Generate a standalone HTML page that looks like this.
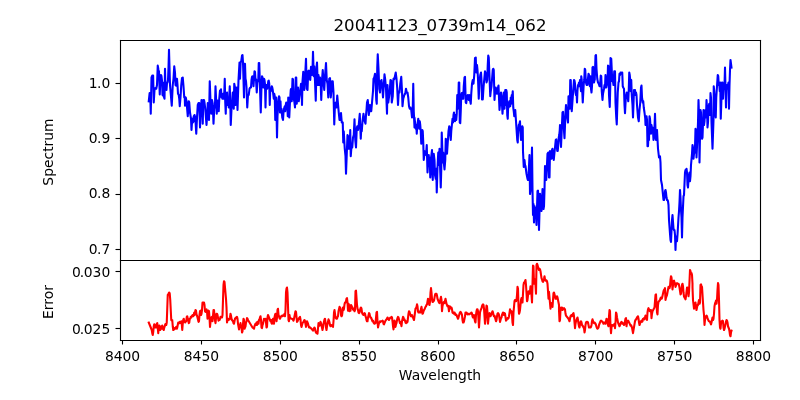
<!DOCTYPE html>
<html><head><meta charset="utf-8"><title>plot</title><style>html,body{margin:0;padding:0;background:#fff;width:800px;height:400px;overflow:hidden}svg{display:block}</style></head><body>
<svg width="800" height="400" viewBox="0 0 576 288" version="1.1">
<defs>
<style type="text/css">*{stroke-linejoin: round; stroke-linecap: butt}</style>
</defs>
<g id="figure_1">
<g id="patch_1">
<path d="M 0 288 
L 576 288 
L 576 0 
L 0 0 
z
" style="fill: #ffffff"/>
</g>
<g id="axes_1">
<g id="patch_2">
<path d="M 86.4 187.2 
L 547.2 187.2 
L 547.2 28.8 
L 86.4 28.8 
z
" style="fill: #ffffff"/>
</g>
<g id="matplotlib.axis_1"/>
<g id="matplotlib.axis_2">
<g id="ytick_1">
<g id="line2d_1">
<g>
<path d="M 86.7600 179.6400 L 83.1600 179.6400" style="stroke: #000000; stroke-width: 0.8"/>
</g>
</g>
<g id="text_1">
<text style="font-size: 10px; font-family: 'DejaVu Sans', 'Liberation Sans', sans-serif; text-anchor: end" x="79.4000" y="182.6700">0<tspan dx="-0.432">.7</tspan></text>
</g>
</g>
<g id="ytick_2">
<g id="line2d_2">
<g>
<path d="M 86.7600 140.0400 L 83.1600 140.0400" style="stroke: #000000; stroke-width: 0.8"/>
</g>
</g>
<g id="text_2">
<text style="font-size: 10px; font-family: 'DejaVu Sans', 'Liberation Sans', sans-serif; text-anchor: end" x="79.4000" y="142.8309">0<tspan dx="-0.432">.8</tspan></text>
</g>
</g>
<g id="ytick_3">
<g id="line2d_3">
<g>
<path d="M 86.7600 99.7200 L 83.1600 99.7200" style="stroke: #000000; stroke-width: 0.8"/>
</g>
</g>
<g id="text_3">
<text style="font-size: 10px; font-family: 'DejaVu Sans', 'Liberation Sans', sans-serif; text-anchor: end" x="79.4000" y="102.9919">0<tspan dx="-0.432">.9</tspan></text>
</g>
</g>
<g id="ytick_4">
<g id="line2d_4">
<g>
<path d="M 86.7600 60.1200 L 83.1600 60.1200" style="stroke: #000000; stroke-width: 0.8"/>
</g>
</g>
<g id="text_4">
<text style="font-size: 10px; font-family: 'DejaVu Sans', 'Liberation Sans', sans-serif; text-anchor: end" x="79.4000" y="63.1529">1<tspan dx="-0.432">.0</tspan></text>
</g>
</g>
<g id="text_5">
<text style="font-size: 10px; font-family: 'DejaVu Sans', 'Liberation Sans', sans-serif; text-anchor: middle" x="38.2403" y="109.4400" transform="rotate(-90 38.2403 109.4400)">Spectrum</text>
</g>
</g>
<g id="line2d_5">
<path d="M 107.1 72.9 
L 107.73 67.05 
L 108.18 67.95 
L 108.54 81.9 
L 109.08 55.8 
L 109.62 54.45 
L 110.25 54.45 
L 110.7 73.8 
L 111.24 64.8 
L 111.78 63.45 
L 112.5 63.9 
L 113.04 61.2 
L 113.58 47.25 
L 114.12 50.4 
L 114.48 51.75 
L 115.02 67.95 
L 115.56 54.45 
L 115.92 54 
L 116.28 54.9 
L 116.64 58.05 
L 117 68.4 
L 117.36 59.4 
L 117.72 69.3 
L 118.08 69.75 
L 118.44 71.1 
L 118.8 49.5 
L 119.16 63.9 
L 119.52 59.85 
L 119.88 64.8 
L 120.24 59.85 
L 120.6 59.4 
L 120.96 57.6 
L 121.32 48.6 
L 121.68 35.82 
L 122.4 61.2 
L 123.66 76.05 
L 124.38 61.2 
L 124.92 56.7 
L 125.46 47.7 
L 126 52.2 
L 126.36 61.2 
L 126.72 61.65 
L 127.08 56.7 
L 127.44 56.7 
L 127.8 61.2 
L 128.16 67.5 
L 128.7 68.4 
L 129.06 71.1 
L 129.42 76.5 
L 129.96 70.2 
L 130.5 61.2 
L 131.04 56.25 
L 131.58 55.8 
L 132.12 62.1 
L 132.66 70.2 
L 133.02 69.75 
L 133.2 76.05 
L 133.74 70.2 
L 134.28 72.9 
L 135.18 83.7 
L 135.9 72.9 
L 136.26 73.8 
L 136.8 81 
L 137.52 85.5 
L 137.88 93.6 
L 138.42 85.5 
L 138.96 88.2 
L 139.5 83.7 
L 140.04 82.8 
L 140.22 87.3 
L 140.58 83.7 
L 141.3 96.3 
L 141.84 84.6 
L 142.38 75.6 
L 142.92 74.25 
L 143.46 74.25 
L 144 91.8 
L 144.54 80.1 
L 145.08 72 
L 145.62 72.45 
L 145.98 89.1 
L 146.34 72 
L 146.88 72 
L 147.24 73.8 
L 147.78 78.3 
L 148.68 90 
L 149.22 81.9 
L 149.58 74.25 
L 149.94 74.7 
L 150.48 86.4 
L 151.02 58.5 
L 151.56 72.9 
L 152.1 81.9 
L 152.64 72 
L 153.18 74.7 
L 153.72 89.1 
L 154.26 78.3 
L 154.8 75.6 
L 155.16 62.1 
L 156.06 81.9 
L 156.6 72.45 
L 156.96 73.8 
L 157.5 80.1 
L 157.86 71.1 
L 158.4 65.25 
L 158.76 66.6 
L 159.12 64.35 
L 159.48 70.2 
L 159.84 69.3 
L 160.2 71.1 
L 160.56 67.5 
L 161.1 71.1 
L 161.46 67.5 
L 161.82 56.7 
L 162.18 73.8 
L 162.54 81.9 
L 162.9 67.5 
L 163.44 66.6 
L 163.8 75.6 
L 164.16 71.1 
L 164.7 77.4 
L 165.42 62.1 
L 165.78 72.9 
L 166.14 90 
L 166.68 78.3 
L 167.22 72.9 
L 167.58 66.6 
L 167.94 67.5 
L 168.3 78.3 
L 168.66 60.3 
L 169.2 63 
L 169.56 75.6 
L 170.1 65.7 
L 170.46 63 
L 171 79.2 
L 171.72 57.6 
L 172.44 45 
L 172.8 56.7 
L 173.25 45 
L 173.7 44.1 
L 174.24 40.05 
L 174.6 39.6 
L 174.96 45 
L 175.68 70.2 
L 176.04 45.9 
L 176.4 45.9 
L 176.76 56.7 
L 177.12 58.5 
L 177.48 63 
L 178.02 77.4 
L 178.56 68.4 
L 179.1 68.4 
L 179.64 63.9 
L 180.18 63 
L 180.72 63 
L 181.08 57.6 
L 181.44 55.35 
L 181.8 54.9 
L 182.16 55.8 
L 182.52 62.1 
L 183.24 51.3 
L 183.6 51.75 
L 183.96 57.6 
L 184.32 57.15 
L 184.86 66.6 
L 185.4 57.6 
L 185.94 58.5 
L 186.3 45.45 
L 186.66 45.45 
L 187.74 81 
L 188.28 62.1 
L 188.64 54.9 
L 189 55.8 
L 189.36 60.3 
L 189.72 63 
L 190.08 56.7 
L 190.44 57.6 
L 190.8 60.75 
L 191.16 77.4 
L 191.52 63 
L 191.88 61.2 
L 192.24 63.9 
L 192.6 63 
L 193.14 58.5 
L 193.5 58.05 
L 193.86 60.3 
L 194.22 75.6 
L 194.58 64.8 
L 194.94 65.7 
L 195.66 62.1 
L 196.02 63 
L 196.38 64.8 
L 197.1 71.1 
L 197.46 67.5 
L 197.82 69.3 
L 198.18 86.4 
L 198.54 80.1 
L 198.9 70.2 
L 199.44 99 
L 199.8 83.7 
L 200.34 73.8 
L 200.88 69.3 
L 201.24 70.2 
L 201.6 81 
L 201.96 72.9 
L 202.32 81 
L 202.68 78.3 
L 203.22 84.6 
L 203.76 86.4 
L 204.12 81 
L 204.48 78.3 
L 205.02 76.5 
L 205.38 80.1 
L 205.74 75.6 
L 206.1 73.8 
L 206.46 76.5 
L 206.82 74.7 
L 207.18 83.7 
L 207.54 70.2 
L 207.9 71.1 
L 208.26 84.6 
L 208.8 72.9 
L 209.34 64.8 
L 209.7 63.9 
L 210.06 72.9 
L 210.6 56.7 
L 210.96 57.15 
L 211.32 70.2 
L 211.86 72.9 
L 212.4 77.4 
L 212.94 55.8 
L 213.3 55.8 
L 213.66 74.7 
L 214.2 65.7 
L 214.56 63 
L 215.1 72.9 
L 216 66.6 
L 216.72 60.3 
L 217.08 60.3 
L 217.44 75.6 
L 217.8 58.5 
L 218.34 51.75 
L 219.06 64.8 
L 219.78 53.1 
L 220.32 42.3 
L 220.86 63.9 
L 221.4 64.8 
L 221.94 51.3 
L 222.3 50.85 
L 222.84 55.8 
L 223.38 57.6 
L 223.92 48.15 
L 224.46 54 
L 225 50.4 
L 225.36 37.35 
L 225.9 54.9 
L 226.26 47.7 
L 226.8 58.5 
L 227.34 72.45 
L 227.88 48.6 
L 228.24 45 
L 228.78 61.2 
L 229.32 54 
L 229.86 61.2 
L 230.4 55.8 
L 230.94 61.2 
L 231.3 72 
L 231.84 57.6 
L 232.38 50.4 
L 232.92 59.4 
L 233.46 64.8 
L 234 54.9 
L 234.72 45.45 
L 235.26 57.6 
L 235.8 60.3 
L 236.34 70.2 
L 237.06 56.7 
L 237.6 56.25 
L 238.14 70.2 
L 238.68 64.8 
L 239.04 58.5 
L 239.58 58.5 
L 240.12 66.6 
L 240.66 89.55 
L 241.2 74.7 
L 241.74 73.8 
L 242.28 77.4 
L 242.82 68.85 
L 243.9 81 
L 244.44 86.4 
L 244.98 86.4 
L 245.52 81.45 
L 246.06 88.2 
L 246.24 87.75 
L 246.78 88.2 
L 247.14 102.6 
L 247.5 94.5 
L 248.22 107.1 
L 248.76 112.5 
L 249.12 125.1 
L 250.2 97.2 
L 250.74 107.1 
L 251.28 98.1 
L 251.82 107.1 
L 252.18 93.6 
L 252.54 112.5 
L 253.08 105.3 
L 253.62 106.2 
L 254.16 99 
L 254.7 97.2 
L 255.24 85.95 
L 255.78 100.8 
L 256.32 106.2 
L 256.86 92.7 
L 257.22 90.9 
L 257.76 93.6 
L 258.12 91.8 
L 259.02 81.9 
L 259.74 99.9 
L 260.1 92.7 
L 260.46 94.5 
L 261 87.3 
L 261.72 81.9 
L 262.26 86.4 
L 263.16 89.1 
L 263.52 82.8 
L 263.88 79.2 
L 264.24 73.8 
L 264.78 72 
L 265.14 75.6 
L 265.5 82.8 
L 266.04 79.2 
L 266.4 75.6 
L 267.3 80.1 
L 268.56 65.7 
L 268.92 56.7 
L 269.46 55.8 
L 270 53.1 
L 270.54 63 
L 270.9 72 
L 271.26 74.7 
L 271.62 48.6 
L 271.98 39.15 
L 272.52 49.5 
L 273.06 63.9 
L 273.6 66.6 
L 274.14 58.5 
L 274.68 57.6 
L 275.22 62.1 
L 275.76 70.2 
L 276.84 53.55 
L 277.38 57.6 
L 277.92 63.9 
L 278.64 81.9 
L 279 61.2 
L 279.54 73.8 
L 280.62 65.7 
L 281.16 57.6 
L 281.7 58.05 
L 282.06 73.8 
L 282.78 69.3 
L 283.32 56.7 
L 283.86 57.15 
L 284.94 52.2 
L 285.48 56.7 
L 286.02 63.9 
L 286.56 75.6 
L 287.1 65.7 
L 287.64 66.6 
L 288.18 60.3 
L 288.9 55.35 
L 289.44 65.7 
L 289.8 76.5 
L 290.34 71.1 
L 291.42 67.5 
L 291.78 67.5 
L 292.32 63.9 
L 292.86 66.6 
L 293.4 66.6 
L 293.94 70.2 
L 294.48 76.5 
L 295.02 78.3 
L 295.56 77.4 
L 296.1 79.2 
L 296.64 84.6 
L 297.18 78.3 
L 297.54 60.3 
L 297.9 80.1 
L 298.44 91.8 
L 298.44 84.6 
L 299.34 92.7 
L 299.7 90 
L 300.06 96.3 
L 300.42 90.9 
L 301.14 85.5 
L 301.5 88.2 
L 301.86 92.7 
L 302.22 87.3 
L 302.58 90 
L 302.94 94.5 
L 303.3 103.5 
L 303.66 97.2 
L 304.02 93.6 
L 304.38 94.5 
L 304.74 102.6 
L 305.1 115.2 
L 305.82 108.9 
L 306.18 109.8 
L 306.72 111.6 
L 307.26 104.4 
L 307.8 124.2 
L 308.34 115.2 
L 308.7 111.6 
L 309.06 118.8 
L 309.42 113.4 
L 309.78 127.8 
L 310.5 112.5 
L 311.04 108 
L 311.22 122.4 
L 311.58 129.6 
L 311.94 117 
L 312.3 110.7 
L 312.84 115.2 
L 313.2 126 
L 313.74 128.7 
L 314.1 121.5 
L 314.46 138.6 
L 315 120.6 
L 315.54 109.8 
L 316.08 118.8 
L 316.44 107.1 
L 317.34 135 
L 317.7 122.4 
L 318.06 95.4 
L 318.78 117 
L 319.14 109.8 
L 319.5 117 
L 320.04 121.95 
L 320.58 115.2 
L 320.94 99.9 
L 321.48 100.8 
L 321.84 110.7 
L 322.92 94.5 
L 323.46 90.9 
L 323.82 91.8 
L 324.18 97.2 
L 324.54 100.8 
L 324.9 94.5 
L 325.8 85.5 
L 326.16 88.2 
L 326.52 82.8 
L 326.88 81 
L 327.6 87.3 
L 327.96 82.8 
L 328.5 86.4 
L 328.86 81.9 
L 329.22 68.4 
L 329.58 78.3 
L 329.94 73.8 
L 330.3 59.4 
L 330.66 59.4 
L 331.02 88.2 
L 331.38 88.65 
L 331.74 80.1 
L 332.1 68.4 
L 332.46 67.05 
L 332.82 71.1 
L 333.18 66.6 
L 333.54 71.1 
L 333.9 62.1 
L 334.44 55.8 
L 334.8 55.35 
L 335.34 73.8 
L 335.7 74.25 
L 336.06 71.1 
L 336.42 69.3 
L 336.78 68.4 
L 337.14 68.85 
L 337.5 72 
L 337.86 68.4 
L 338.22 71.1 
L 338.94 74.7 
L 339.3 67.5 
L 339.84 60.3 
L 340.38 57.6 
L 340.92 60.3 
L 341.46 54 
L 342 41.85 
L 342.54 41.4 
L 342.9 52.2 
L 343.44 46.8 
L 343.8 50.4 
L 344.16 56.7 
L 344.7 71.1 
L 345.24 58.5 
L 345.78 54 
L 346.32 52.2 
L 346.68 57.6 
L 347.04 71.55 
L 347.58 71.55 
L 348.12 63 
L 349.2 51.3 
L 349.74 53.1 
L 350.28 59.4 
L 350.82 57.6 
L 351.18 46.8 
L 351.54 40.05 
L 351.9 41.4 
L 352.98 69.3 
L 353.34 65.7 
L 353.88 62.1 
L 354.78 50.4 
L 355.14 49.5 
L 355.5 50.4 
L 356.04 72 
L 356.4 66.6 
L 356.94 63 
L 357.48 66.6 
L 357.84 67.5 
L 358.2 66.6 
L 358.56 63 
L 358.92 61.65 
L 359.64 79.2 
L 360 75.6 
L 360.36 70.2 
L 360.72 66.6 
L 361.08 69.3 
L 361.8 81.9 
L 362.7 66.6 
L 363.24 78.3 
L 363.78 64.8 
L 364.14 75.6 
L 364.5 64.8 
L 364.86 66.6 
L 365.22 82.8 
L 365.58 85.5 
L 365.94 73.8 
L 366.3 77.4 
L 366.66 72.9 
L 367.02 75.6 
L 367.38 76.5 
L 367.74 70.2 
L 368.1 74.7 
L 368.46 68.4 
L 368.82 70.2 
L 369.18 65.7 
L 369.54 77.4 
L 369.9 80.1 
L 370.26 83.7 
L 370.62 81 
L 370.98 79.2 
L 372.42 100.8 
L 372.78 102.6 
L 372.96 96.3 
L 373.5 90 
L 374.04 89.1 
L 374.4 87.3 
L 374.76 96.3 
L 375.12 100.8 
L 375.66 91.8 
L 376.02 90.9 
L 376.38 91.8 
L 376.56 108.9 
L 377.1 120.15 
L 377.64 115.2 
L 378 118.8 
L 378.36 119.7 
L 379.08 125.1 
L 379.8 128.7 
L 380.16 129.6 
L 380.52 127.8 
L 381.24 111.6 
L 381.6 139.68 
L 382.32 134.64 
L 383.04 106.2 
L 383.4 136.8 
L 383.76 154.8 
L 384.12 146.88 
L 384.48 160.2 
L 384.84 148.32 
L 385.2 155.52 
L 385.56 149.4 
L 385.92 154.08 
L 386.28 162 
L 387 137.52 
L 387.36 137.232 
L 388.08 165.6 
L 388.8 139.5 
L 389.16 142.2 
L 389.52 151.2 
L 389.88 151.92 
L 390.24 146.88 
L 390.6 136.08 
L 390.96 139.68 
L 391.32 150.48 
L 391.68 148.32 
L 392.04 136.8 
L 392.4 119.52 
L 392.76 127.8 
L 393.3 129.6 
L 394.2 110.7 
L 394.74 109.8 
L 395.28 127.8 
L 395.64 127.8 
L 396 108.72 
L 396.36 109.44 
L 396.72 113.4 
L 397.08 114.3 
L 397.44 108 
L 397.8 107.1 
L 398.7 115.2 
L 400.14 100.8 
L 400.5 100.368 
L 401.22 108.72 
L 401.58 108.72 
L 402.3 99 
L 402.66 97.2 
L 403.02 93.6 
L 403.2 90 
L 403.56 100.8 
L 403.92 105.75 
L 405 81 
L 405.36 80.55 
L 405.72 86.4 
L 406.08 94.5 
L 406.44 99.45 
L 407.16 81 
L 407.52 75.6 
L 408.06 81.9 
L 408.96 88.2 
L 409.32 69.3 
L 409.68 69.3 
L 410.04 72 
L 410.22 78.3 
L 410.58 57.6 
L 410.94 57.6 
L 411.66 80.1 
L 412.74 64.8 
L 413.28 57.6 
L 413.64 58.05 
L 414 60.3 
L 414.36 66.6 
L 414.72 68.4 
L 415.08 65.7 
L 415.44 73.8 
L 415.8 64.8 
L 416.16 61.2 
L 416.52 61.2 
L 416.88 59.4 
L 417.24 62.1 
L 417.6 57.6 
L 418.32 65.7 
L 418.5 54.9 
L 418.86 57.6 
L 419.58 73.8 
L 420.3 60.3 
L 420.66 57.6 
L 421.02 49.5 
L 421.38 50.4 
L 421.74 57.6 
L 422.1 60.3 
L 422.46 61.2 
L 422.82 61.2 
L 423.72 53.1 
L 424.08 54 
L 424.44 61.2 
L 424.8 62.1 
L 425.16 54.9 
L 425.52 63.9 
L 425.88 66.6 
L 426.24 62.1 
L 426.6 48.6 
L 426.96 48.15 
L 427.32 57.6 
L 427.68 59.4 
L 428.04 57.6 
L 428.22 57.6 
L 428.76 40.05 
L 429.12 39.6 
L 429.48 49.5 
L 430.02 56.7 
L 430.56 59.4 
L 431.1 60.3 
L 431.64 62.1 
L 432 62.1 
L 432.54 54.45 
L 432.9 54.9 
L 433.26 65.7 
L 433.8 72 
L 434.16 67.5 
L 434.88 63.9 
L 435.24 61.2 
L 435.6 63 
L 435.96 54 
L 436.5 63 
L 437.04 60.3 
L 437.4 59.4 
L 437.76 47.25 
L 438.12 47.7 
L 438.48 68.4 
L 439.02 76.95 
L 439.38 63 
L 439.56 41.85 
L 440.1 42.3 
L 440.82 58.5 
L 441.18 57.6 
L 441.72 61.2 
L 442.26 51.3 
L 442.8 51.3 
L 443.16 73.8 
L 443.7 84.6 
L 444.06 89.55 
L 444.78 66.6 
L 445.32 59.4 
L 445.68 58.5 
L 446.04 53.1 
L 446.4 54 
L 446.76 52.2 
L 447.3 53.1 
L 447.66 52.2 
L 448.02 52.2 
L 448.38 62.1 
L 448.74 63 
L 449.28 63.9 
L 449.64 75.6 
L 450 81.45 
L 450.54 71.1 
L 450.9 68.4 
L 451.26 66.6 
L 451.98 70.2 
L 452.34 72.9 
L 452.7 64.8 
L 453.06 52.2 
L 453.42 54 
L 453.78 57.6 
L 454.14 65.7 
L 454.5 57.6 
L 454.86 68.4 
L 455.4 75.6 
L 455.76 84.6 
L 456.48 64.8 
L 456.84 66.6 
L 457.2 64.8 
L 457.56 68.4 
L 457.92 66.6 
L 458.28 68.4 
L 458.64 75.6 
L 459.36 84.6 
L 459.9 87.3 
L 460.44 79.2 
L 460.98 73.8 
L 461.52 63 
L 461.88 61.65 
L 462.24 70.2 
L 462.78 73.8 
L 463.14 72.9 
L 463.5 77.4 
L 464.04 81 
L 464.58 85.5 
L 464.76 90 
L 465.12 84.6 
L 465.48 83.7 
L 465.84 86.4 
L 466.2 105.3 
L 466.56 105.3 
L 466.92 97.2 
L 467.28 100.8 
L 467.64 83.7 
L 468 85.5 
L 468.72 96.3 
L 469.08 90 
L 469.44 93.6 
L 469.8 91.8 
L 470.16 94.5 
L 470.52 100.8 
L 470.88 99 
L 471.24 91.8 
L 471.6 81.9 
L 471.96 93.6 
L 472.32 100.8 
L 472.68 94.5 
L 473.04 93.6 
L 473.76 107.1 
L 474.48 113.4 
L 474.84 112.5 
L 475.2 112.5 
L 475.56 117 
L 475.92 129.6 
L 476.64 133.2 
L 477.72 144 
L 478.08 144 
L 478.44 142.2 
L 478.8 137.7 
L 479.16 136.8 
L 479.52 138.6 
L 479.88 142.2 
L 480.24 144 
L 480.6 144 
L 480.96 144.9 
L 481.32 147.6 
L 481.68 158.4 
L 482.4 168.3 
L 482.76 172.8 
L 483.12 174.15 
L 483.84 158.4 
L 484.2 154.8 
L 484.92 164.7 
L 485.28 165.6 
L 485.64 165.6 
L 486 169.2 
L 486.36 180 
L 486.72 170.1 
L 487.08 171 
L 487.44 173.7 
L 487.8 169.2 
L 488.52 156.6 
L 488.88 152.1 
L 489.24 145.8 
L 489.6 136.8 
L 489.96 142.2 
L 490.32 151.2 
L 490.68 156.6 
L 491.04 171 
L 491.4 156.6 
L 492.12 141.3 
L 492.48 140.4 
L 493.2 124.2 
L 493.56 122.4 
L 493.92 124.2 
L 494.28 121.5 
L 494.64 124.2 
L 495 133.2 
L 495.36 135 
L 495.72 129.6 
L 496.08 126 
L 496.44 124.2 
L 496.8 130.5 
L 497.16 126.9 
L 497.52 118.8 
L 498.24 110.7 
L 498.6 104.4 
L 498.96 106.2 
L 499.32 114.3 
L 499.68 110.7 
L 500.04 109.8 
L 500.4 106.2 
L 500.76 92.7 
L 501.12 94.5 
L 501.48 113.4 
L 502.2 97.2 
L 502.56 88.2 
L 502.92 72 
L 503.28 82.8 
L 503.64 117 
L 504.36 79.2 
L 504.72 81 
L 505.08 95.4 
L 505.44 99.9 
L 505.8 99 
L 506.52 79.2 
L 506.88 90 
L 507.24 87.3 
L 507.6 81 
L 507.96 79.2 
L 508.32 84.6 
L 508.68 72 
L 509.04 77.4 
L 509.4 91.8 
L 509.76 88.2 
L 510.12 77.4 
L 510.66 74.7 
L 511.2 82.8 
L 511.56 67.05 
L 511.92 70.2 
L 512.28 88.2 
L 513 107.1 
L 513.72 86.4 
L 513.9 62.1 
L 514.26 65.7 
L 514.98 81 
L 515.34 84.6 
L 515.7 70.2 
L 516.78 54 
L 517.14 54.9 
L 517.5 61.2 
L 517.86 60.3 
L 518.22 65.7 
L 518.58 59.4 
L 518.94 85.5 
L 519.84 59.4 
L 520.2 59.4 
L 520.56 71.1 
L 520.92 63 
L 521.28 63.9 
L 521.64 61.2 
L 522 48.6 
L 522.72 77.4 
L 523.08 63 
L 523.44 61.2 
L 523.8 63.9 
L 524.16 61.2 
L 524.52 59.4 
L 524.88 78.3 
L 525.24 61.2 
L 525.6 50.4 
L 525.96 43.2 
L 526.68 48.6 
L 526.68 48.6 
" clip-path="url(#p2a2abd546a)" style="fill: none; stroke: #0000ff; stroke-width: 1.5; stroke-linecap: square"/>
</g>
<g id="patch_3">
<path d="M 86.7600 187.5600 L 86.7600 29.1600" style="fill: none; stroke: #000000; stroke-width: 0.8; stroke-linejoin: miter; stroke-linecap: square"/>
</g>
<g id="patch_4">
<path d="M 547.5600 187.5600 L 547.5600 29.1600" style="fill: none; stroke: #000000; stroke-width: 0.8; stroke-linejoin: miter; stroke-linecap: square"/>
</g>
<g id="patch_5">
<path d="M 86.7600 187.5600 L 547.5600 187.5600" style="fill: none; stroke: #000000; stroke-width: 0.8; stroke-linejoin: miter; stroke-linecap: square"/>
</g>
<g id="patch_6">
<path d="M 86.7600 29.1600 L 547.5600 29.1600" style="fill: none; stroke: #000000; stroke-width: 0.8; stroke-linejoin: miter; stroke-linecap: square"/>
</g>
<g id="text_6">
<text style="font-size: 12px; font-family: 'DejaVu Sans', 'Liberation Sans', sans-serif; text-anchor: middle" x="316.8000" y="22.0800">20041123_0739m14_062</text>
</g>
</g>
<g id="axes_2">
<g id="patch_7">
<path d="M 86.4 244.8 
L 547.2 244.8 
L 547.2 187.2 
L 86.4 187.2 
z
" style="fill: #ffffff"/>
</g>
<g id="matplotlib.axis_3">
<g id="xtick_1">
<g id="line2d_6">
<g>
<path d="M 88.2000 245.1600 L 88.2000 248.0400" style="stroke: #000000; stroke-width: 0.8"/>
</g>
</g>
<g id="text_7">
<text style="font-size: 10px; font-family: 'DejaVu Sans', 'Liberation Sans', sans-serif; text-anchor: middle" x="88.2398" y="260.1184">8400</text>
</g>
</g>
<g id="xtick_2">
<g id="line2d_7">
<g>
<path d="M 145.0800 245.1600 L 145.0800 248.0400" style="stroke: #000000; stroke-width: 0.8"/>
</g>
</g>
<g id="text_8">
<text style="font-size: 10px; font-family: 'DejaVu Sans', 'Liberation Sans', sans-serif; text-anchor: middle" x="145.0250" y="260.1184">8450</text>
</g>
</g>
<g id="xtick_3">
<g id="line2d_8">
<g>
<path d="M 201.9600 245.1600 L 201.9600 248.0400" style="stroke: #000000; stroke-width: 0.8"/>
</g>
</g>
<g id="text_9">
<text style="font-size: 10px; font-family: 'DejaVu Sans', 'Liberation Sans', sans-serif; text-anchor: middle" x="201.8101" y="260.1184">8500</text>
</g>
</g>
<g id="xtick_4">
<g id="line2d_9">
<g>
<path d="M 258.8400 245.1600 L 258.8400 248.0400" style="stroke: #000000; stroke-width: 0.8"/>
</g>
</g>
<g id="text_10">
<text style="font-size: 10px; font-family: 'DejaVu Sans', 'Liberation Sans', sans-serif; text-anchor: middle" x="258.5952" y="260.1184">8550</text>
</g>
</g>
<g id="xtick_5">
<g id="line2d_10">
<g>
<path d="M 315.7200 245.1600 L 315.7200 248.0400" style="stroke: #000000; stroke-width: 0.8"/>
</g>
</g>
<g id="text_11">
<text style="font-size: 10px; font-family: 'DejaVu Sans', 'Liberation Sans', sans-serif; text-anchor: middle" x="315.3804" y="260.1184">8600</text>
</g>
</g>
<g id="xtick_6">
<g id="line2d_11">
<g>
<path d="M 371.8800 245.1600 L 371.8800 248.0400" style="stroke: #000000; stroke-width: 0.8"/>
</g>
</g>
<g id="text_12">
<text style="font-size: 10px; font-family: 'DejaVu Sans', 'Liberation Sans', sans-serif; text-anchor: middle" x="372.1655" y="260.1184">8650</text>
</g>
</g>
<g id="xtick_7">
<g id="line2d_12">
<g>
<path d="M 428.7600 245.1600 L 428.7600 248.0400" style="stroke: #000000; stroke-width: 0.8"/>
</g>
</g>
<g id="text_13">
<text style="font-size: 10px; font-family: 'DejaVu Sans', 'Liberation Sans', sans-serif; text-anchor: middle" x="428.9506" y="260.1184">8700</text>
</g>
</g>
<g id="xtick_8">
<g id="line2d_13">
<g>
<path d="M 485.6400 245.1600 L 485.6400 248.0400" style="stroke: #000000; stroke-width: 0.8"/>
</g>
</g>
<g id="text_14">
<text style="font-size: 10px; font-family: 'DejaVu Sans', 'Liberation Sans', sans-serif; text-anchor: middle" x="485.7358" y="260.1184">8750</text>
</g>
</g>
<g id="xtick_9">
<g id="line2d_14">
<g>
<path d="M 542.5200 245.1600 L 542.5200 248.0400" style="stroke: #000000; stroke-width: 0.8"/>
</g>
</g>
<g id="text_15">
<text style="font-size: 10px; font-family: 'DejaVu Sans', 'Liberation Sans', sans-serif; text-anchor: middle" x="542.5209" y="260.1184">8800</text>
</g>
</g>
<g id="text_16">
<text style="font-size: 10px; font-family: 'DejaVu Sans', 'Liberation Sans', sans-serif; text-anchor: middle" x="316.8000" y="273.7966">Wavelength</text>
</g>
</g>
<g id="matplotlib.axis_4">
<g id="ytick_5">
<g id="line2d_15">
<g>
<path d="M 86.7600 236.5200 L 83.1600 236.5200" style="stroke: #000000; stroke-width: 0.8"/>
</g>
</g>
<g id="text_17">
<text style="font-size: 10px; font-family: 'DejaVu Sans', 'Liberation Sans', sans-serif; text-anchor: end" x="79.4000" y="240.2768">0<tspan dx="-0.720">.</tspan><tspan dx="-0.288">025</tspan></text>
</g>
</g>
<g id="ytick_6">
<g id="line2d_16">
<g>
<path d="M 86.7600 195.4800 L 83.1600 195.4800" style="stroke: #000000; stroke-width: 0.8"/>
</g>
</g>
<g id="text_18">
<text style="font-size: 10px; font-family: 'DejaVu Sans', 'Liberation Sans', sans-serif; text-anchor: end" x="79.4000" y="199.2395">0<tspan dx="-0.720">.</tspan><tspan dx="-0.288">030</tspan></text>
</g>
</g>
<g id="text_19">
<text style="font-size: 10px; font-family: 'DejaVu Sans', 'Liberation Sans', sans-serif; text-anchor: middle" x="38.2403" y="217.4400" transform="rotate(-90 38.2403 217.4400)">Error</text>
</g>
</g>
<g id="line2d_17">
<path d="M 107.1 232.2 
L 109.26 237.6 
L 109.62 239.85 
L 109.98 241.2 
L 110.34 238.95 
L 110.7 234.9 
L 111.06 233.55 
L 111.42 235.8 
L 112.14 234 
L 112.5 235.8 
L 112.86 233.1 
L 113.22 232.65 
L 113.94 239.85 
L 114.3 235.8 
L 114.66 234.45 
L 115.02 235.8 
L 115.38 237.6 
L 115.74 235.8 
L 116.1 234.9 
L 116.46 236.7 
L 116.82 234.45 
L 117.18 235.8 
L 117.9 237.6 
L 118.26 235.8 
L 118.62 234.9 
L 118.98 233.55 
L 119.34 233.1 
L 119.7 234 
L 120.06 232.2 
L 120.78 212.4 
L 121.14 211.95 
L 121.5 211.05 
L 121.86 210.6 
L 122.22 211.5 
L 122.58 216 
L 123.3 230.4 
L 123.66 230.85 
L 124.02 230.4 
L 124.38 234.9 
L 124.74 237.6 
L 125.1 237.15 
L 125.46 237.15 
L 125.82 236.25 
L 126.18 236.7 
L 126.54 235.8 
L 126.9 235.35 
L 127.26 236.7 
L 127.62 235.8 
L 128.34 232.2 
L 128.7 232.65 
L 129.06 232.65 
L 129.42 231.75 
L 129.78 232.65 
L 130.14 232.2 
L 130.5 231.3 
L 130.86 233.1 
L 131.22 237.6 
L 131.58 233.1 
L 131.94 230.4 
L 132.3 229.5 
L 132.66 231.3 
L 133.38 232.2 
L 133.74 231.3 
L 134.1 231.3 
L 134.46 228.15 
L 134.82 227.7 
L 135.9 232.65 
L 136.26 232.2 
L 136.62 229.5 
L 136.98 229.5 
L 137.34 228.15 
L 137.7 228.6 
L 138.06 227.7 
L 138.78 226.8 
L 139.14 227.7 
L 139.5 226.8 
L 139.86 225 
L 140.22 226.8 
L 140.4 225 
L 140.76 223.2 
L 141.12 223.65 
L 141.48 226.35 
L 141.84 227.25 
L 142.2 228.6 
L 142.92 231.75 
L 143.28 231.3 
L 143.64 226.8 
L 144 224.1 
L 144.36 223.65 
L 144.72 226.8 
L 145.08 225.9 
L 145.44 223.2 
L 145.8 217.8 
L 146.88 217.8 
L 147.24 219.6 
L 147.6 224.1 
L 147.96 224.55 
L 148.32 223.2 
L 148.68 222.75 
L 149.04 223.65 
L 149.4 229.5 
L 149.76 227.7 
L 150.12 223.65 
L 150.48 224.1 
L 150.84 228.6 
L 151.2 235.35 
L 151.92 228.6 
L 152.28 229.5 
L 152.64 228.15 
L 153 231.3 
L 153.72 223.2 
L 154.08 223.2 
L 154.8 230.85 
L 155.16 232.65 
L 155.88 225.9 
L 156.24 225.9 
L 156.6 226.8 
L 157.32 230.85 
L 157.68 230.4 
L 158.04 230.4 
L 158.4 229.5 
L 158.76 228.15 
L 159.12 228.6 
L 159.48 228.15 
L 159.84 228.6 
L 160.2 226.8 
L 160.92 205.2 
L 161.28 202.5 
L 161.64 202.95 
L 162.72 215.1 
L 163.08 221.4 
L 163.44 232.2 
L 163.8 230.4 
L 164.16 229.5 
L 164.52 230.4 
L 164.88 229.5 
L 165.24 229.95 
L 165.6 228.6 
L 165.96 225.9 
L 166.32 227.25 
L 166.68 229.5 
L 167.04 230.4 
L 167.76 231.3 
L 168.12 232.65 
L 168.48 233.1 
L 169.2 229.5 
L 169.92 228.6 
L 170.28 229.05 
L 170.64 228.15 
L 171 229.5 
L 171.36 233.1 
L 172.08 237.15 
L 172.44 235.8 
L 173.16 232.65 
L 173.52 234.9 
L 173.88 235.8 
L 174.24 239.4 
L 174.6 238.5 
L 174.96 233.1 
L 175.32 229.5 
L 175.68 230.4 
L 176.04 236.7 
L 176.76 234.9 
L 177.12 232.2 
L 177.48 231.3 
L 177.84 229.05 
L 178.2 229.5 
L 178.56 230.4 
L 181.8 235.8 
L 182.88 236.7 
L 183.24 234.9 
L 183.96 233.1 
L 184.32 234 
L 184.68 232.2 
L 185.04 234 
L 185.4 231.75 
L 185.76 232.2 
L 186.12 233.1 
L 186.48 230.4 
L 186.84 229.95 
L 187.2 228.6 
L 187.56 227.7 
L 187.92 230.4 
L 188.28 235.8 
L 188.64 236.25 
L 189 234 
L 189.36 233.1 
L 190.08 229.5 
L 190.44 230.4 
L 191.16 229.5 
L 191.52 232.2 
L 191.88 235.8 
L 192.24 235.35 
L 192.6 228.6 
L 192.96 226.8 
L 194.76 231.3 
L 195.12 230.4 
L 195.48 232.65 
L 195.84 233.1 
L 196.56 229.5 
L 196.92 232.2 
L 197.28 233.1 
L 197.64 228.6 
L 198 226.8 
L 198.36 225.9 
L 199.08 231.3 
L 199.44 228.6 
L 199.8 223.2 
L 200.16 222.3 
L 200.52 226.8 
L 200.88 227.7 
L 201.24 229.05 
L 201.6 229.5 
L 202.32 227.7 
L 202.68 227.7 
L 203.04 227.25 
L 203.4 227.7 
L 204.12 226.8 
L 204.48 227.25 
L 204.84 225.9 
L 205.2 227.7 
L 205.56 223.2 
L 205.92 210.6 
L 206.28 207.9 
L 206.64 207 
L 207 210.6 
L 207.72 230.4 
L 208.08 231.3 
L 208.44 226.8 
L 208.8 229.05 
L 209.16 229.05 
L 209.7 229.5 
L 210.24 229.5 
L 210.78 229.95 
L 211.32 230.85 
L 211.68 229.5 
L 212.76 224.1 
L 213.12 224.55 
L 213.84 231.75 
L 214.2 231.3 
L 214.56 230.4 
L 214.92 229.95 
L 215.28 229.05 
L 216 228.15 
L 216.36 229.95 
L 216.72 234 
L 217.08 235.35 
L 217.8 232.65 
L 218.52 231.75 
L 218.88 230.85 
L 219.24 230.4 
L 219.6 231.3 
L 220.32 235.35 
L 221.04 231.3 
L 221.76 233.1 
L 222.48 235.8 
L 222.84 235.35 
L 223.56 236.25 
L 223.92 236.25 
L 225.36 238.05 
L 226.08 236.25 
L 226.44 235.8 
L 226.8 236.7 
L 227.16 238.5 
L 227.52 239.4 
L 227.88 239.85 
L 228.24 239.85 
L 228.6 240.3 
L 229.32 232.65 
L 229.68 233.1 
L 230.04 234.45 
L 230.76 231.75 
L 231.12 232.65 
L 232.2 237.6 
L 232.56 235.8 
L 232.92 233.1 
L 233.64 229.95 
L 234 229.5 
L 234.36 232.2 
L 234.72 235.8 
L 235.08 237.6 
L 235.44 234.9 
L 236.52 229.95 
L 236.88 230.85 
L 237.24 232.2 
L 237.6 234 
L 237.96 234.9 
L 238.68 234 
L 239.76 235.35 
L 240.12 231.3 
L 240.48 225 
L 240.84 223.2 
L 241.56 228.6 
L 242.28 229.5 
L 242.64 229.5 
L 243 228.15 
L 243.36 227.7 
L 243.72 224.1 
L 244.44 220.95 
L 244.8 221.4 
L 245.16 222.3 
L 245.52 226.8 
L 245.88 227.7 
L 246.24 227.25 
L 246.96 221.4 
L 247.32 223.2 
L 247.68 222.3 
L 248.04 219.15 
L 248.4 217.8 
L 248.76 217.8 
L 249.12 216.9 
L 249.48 215.1 
L 249.84 214.65 
L 250.2 217.8 
L 250.56 223.65 
L 250.92 218.7 
L 251.28 219.6 
L 251.64 224.1 
L 252 220.5 
L 252.36 223.65 
L 252.72 219.6 
L 253.08 220.05 
L 253.44 220.95 
L 253.8 221.4 
L 254.16 222.75 
L 254.52 223.2 
L 254.88 222.3 
L 255.24 224.1 
L 255.6 223.2 
L 255.96 209.7 
L 256.32 209.25 
L 257.04 219.6 
L 257.4 222.3 
L 257.76 223.2 
L 258.12 225 
L 258.48 225.45 
L 258.84 225 
L 259.56 221.85 
L 259.92 221.4 
L 260.28 222.3 
L 260.64 225 
L 261 225.9 
L 261.72 226.8 
L 262.08 225.9 
L 262.44 225.45 
L 262.8 225.9 
L 263.16 227.7 
L 263.52 228.6 
L 263.88 230.4 
L 264.24 231.3 
L 264.6 231.3 
L 264.96 228.6 
L 265.68 225.45 
L 266.04 225.9 
L 266.4 227.7 
L 266.76 228.6 
L 267.12 228.6 
L 268.2 231.3 
L 268.56 230.85 
L 268.92 232.2 
L 269.64 233.1 
L 270 232.2 
L 270.36 232.65 
L 271.08 225 
L 271.44 224.55 
L 271.8 231.3 
L 272.16 235.8 
L 272.88 232.65 
L 273.24 232.2 
L 273.6 231.3 
L 273.96 231.75 
L 274.32 231.3 
L 275.04 231.3 
L 275.4 230.85 
L 275.76 231.3 
L 276.12 233.1 
L 276.48 233.55 
L 277.56 230.85 
L 278.64 229.5 
L 279 228.6 
L 279.36 229.05 
L 279.72 229.95 
L 280.08 230.4 
L 280.44 229.5 
L 281.16 228.6 
L 281.52 228.6 
L 281.88 228.15 
L 282.24 228.6 
L 282.6 231.3 
L 282.96 234.9 
L 283.32 237.15 
L 284.04 230.85 
L 284.4 232.2 
L 284.76 235.35 
L 285.12 233.55 
L 285.48 232.65 
L 285.84 230.4 
L 286.2 229.05 
L 286.56 228.15 
L 286.92 228.6 
L 288 232.65 
L 288.36 231.75 
L 289.08 234.9 
L 289.44 231.3 
L 290.16 228.15 
L 290.52 228.6 
L 290.88 230.4 
L 291.24 229.95 
L 291.6 230.85 
L 291.96 232.2 
L 292.32 232.65 
L 292.68 231.3 
L 293.04 232.2 
L 293.4 231.75 
L 294.12 225.9 
L 294.48 224.1 
L 294.84 224.55 
L 295.2 225.9 
L 295.92 227.7 
L 296.64 226.8 
L 297 228.15 
L 297.36 228.6 
L 298.08 230.4 
L 299.16 222.3 
L 299.52 221.85 
L 299.88 220.95 
L 300.24 219.15 
L 300.6 220.5 
L 300.96 224.1 
L 301.32 225 
L 301.68 225 
L 302.4 224.1 
L 302.76 225 
L 303.12 222.3 
L 303.48 220.95 
L 304.2 225.9 
L 304.56 225.45 
L 304.92 224.1 
L 305.28 223.2 
L 305.64 222.75 
L 306.36 220.95 
L 306.72 220.5 
L 307.08 219.6 
L 307.44 219.15 
L 308.16 215.1 
L 308.52 216 
L 308.88 218.7 
L 309.24 219.6 
L 309.6 217.35 
L 309.96 210.6 
L 310.32 207.45 
L 310.68 210.6 
L 311.04 215.1 
L 311.4 217.35 
L 311.76 217.35 
L 312.48 216.45 
L 313.2 212.4 
L 313.56 211.5 
L 314.28 211.5 
L 314.64 212.85 
L 315 215.1 
L 316.08 217.8 
L 316.44 218.25 
L 316.8 217.35 
L 317.16 215.1 
L 317.52 213.75 
L 317.88 216 
L 318.24 224.1 
L 318.6 220.5 
L 318.96 218.7 
L 319.32 217.8 
L 319.68 217.35 
L 320.04 218.25 
L 320.76 215.1 
L 321.48 218.7 
L 322.2 220.5 
L 322.56 220.05 
L 322.92 221.4 
L 323.28 224.1 
L 323.64 220.5 
L 324 222.3 
L 324.36 220.95 
L 324.72 221.85 
L 325.08 221.4 
L 325.44 222.75 
L 325.8 225 
L 326.16 225.45 
L 326.52 225 
L 326.88 225.9 
L 327.24 225 
L 327.96 226.8 
L 328.32 226.35 
L 328.68 226.8 
L 329.76 229.5 
L 330.12 228.6 
L 330.84 225.9 
L 331.2 225 
L 331.56 224.55 
L 331.92 225 
L 332.64 226.8 
L 333 230.4 
L 333.36 232.2 
L 333.72 232.2 
L 334.08 231.3 
L 334.8 227.7 
L 335.16 225 
L 335.88 225 
L 336.24 225.9 
L 336.6 226.35 
L 336.96 225.9 
L 337.32 225.9 
L 337.68 226.35 
L 338.04 225.9 
L 338.76 225.9 
L 339.48 225 
L 339.84 225.9 
L 340.2 227.7 
L 340.56 228.6 
L 340.92 227.25 
L 341.28 226.8 
L 341.64 229.5 
L 342 231.3 
L 342.36 232.2 
L 342.72 226.8 
L 343.08 224.1 
L 343.44 222.75 
L 343.8 222.75 
L 344.16 224.1 
L 344.88 235.8 
L 345.6 225 
L 345.96 223.65 
L 346.68 221.85 
L 347.04 220.5 
L 347.4 219.6 
L 347.76 219.15 
L 348.12 219.6 
L 348.48 222.3 
L 349.2 233.1 
L 349.56 230.4 
L 349.92 224.1 
L 350.28 220.05 
L 350.64 220.5 
L 351 225 
L 351.36 233.1 
L 352.08 225.9 
L 352.44 225.45 
L 352.8 226.8 
L 353.16 227.7 
L 354.6 224.1 
L 354.96 225 
L 355.32 226.8 
L 355.68 227.7 
L 356.04 227.25 
L 357.12 231.3 
L 357.48 230.4 
L 357.84 227.7 
L 358.2 225.9 
L 358.56 225.45 
L 358.92 225.9 
L 359.28 226.8 
L 360 231.75 
L 360.72 229.05 
L 361.08 228.6 
L 361.44 226.8 
L 362.16 225 
L 362.88 226.8 
L 363.24 225.45 
L 363.6 225.9 
L 364.32 230.85 
L 364.68 230.4 
L 365.04 229.5 
L 365.4 229.05 
L 365.76 229.5 
L 366.12 229.05 
L 366.48 227.7 
L 367.2 222.75 
L 367.56 224.1 
L 367.92 225 
L 368.28 224.1 
L 368.64 226.8 
L 369 232.2 
L 369.36 234 
L 369.72 225 
L 370.44 216.9 
L 370.8 216 
L 371.52 216.9 
L 371.88 216 
L 372.24 212.4 
L 372.6 206.55 
L 372.96 207.9 
L 373.32 220.5 
L 373.68 225.9 
L 374.04 225 
L 374.4 223.2 
L 375.12 216 
L 375.48 214.65 
L 375.84 216 
L 376.2 217.8 
L 376.92 205.2 
L 377.28 203.4 
L 377.64 203.4 
L 378.36 201.6 
L 378.72 205.2 
L 379.44 216.9 
L 379.8 216 
L 380.52 209.7 
L 381.24 211.5 
L 381.6 209.7 
L 381.96 206.1 
L 382.32 206.55 
L 383.04 217.8 
L 383.76 191.25 
L 384.12 191.7 
L 384.48 204.3 
L 384.84 201.6 
L 385.2 201.15 
L 385.56 205.2 
L 385.92 211.5 
L 386.28 190.8 
L 386.64 189.9 
L 387 190.8 
L 387.72 193.5 
L 388.08 194.4 
L 388.44 193.5 
L 388.8 193.95 
L 389.16 195.3 
L 389.88 200.25 
L 390.24 201.15 
L 390.6 202.5 
L 390.96 202.95 
L 391.32 202.05 
L 391.68 200.7 
L 392.04 198.9 
L 392.4 201.15 
L 392.76 202.05 
L 393.12 201.6 
L 393.84 202.5 
L 394.2 204.3 
L 394.92 215.1 
L 395.28 210.15 
L 396.36 222.3 
L 396.72 218.7 
L 397.08 218.25 
L 397.44 220.5 
L 397.8 220.95 
L 398.52 211.05 
L 398.88 210.6 
L 399.6 213.3 
L 399.96 215.1 
L 400.32 214.2 
L 400.68 215.1 
L 401.04 213.3 
L 401.4 214.2 
L 402.48 219.6 
L 402.48 223.2 
L 402.84 231.3 
L 403.2 230.4 
L 403.56 223.2 
L 403.92 221.4 
L 404.28 221.85 
L 404.64 221.4 
L 405 223.2 
L 406.08 221.85 
L 406.8 222.75 
L 407.16 225.9 
L 407.52 227.25 
L 409.32 229.5 
L 410.04 231.3 
L 410.76 227.7 
L 411.48 226.8 
L 411.84 227.7 
L 412.56 225.9 
L 412.92 225.45 
L 413.28 227.7 
L 414 236.25 
L 414.36 233.1 
L 414.72 231.3 
L 415.8 228.6 
L 416.16 230.4 
L 416.52 233.1 
L 416.88 234.9 
L 417.24 235.8 
L 417.96 231.75 
L 418.32 231.3 
L 418.68 232.2 
L 419.04 234 
L 419.76 234.9 
L 420.12 235.8 
L 420.48 236.25 
L 420.84 239.4 
L 421.2 237.6 
L 421.56 234 
L 421.92 232.2 
L 422.28 231.75 
L 422.64 232.2 
L 423 231.75 
L 423.36 232.2 
L 424.08 235.8 
L 425.16 235.8 
L 425.52 235.35 
L 425.88 234 
L 426.24 231.3 
L 426.6 229.95 
L 426.96 231.3 
L 427.32 232.2 
L 427.68 232.65 
L 428.04 232.2 
L 428.76 233.1 
L 429.12 234 
L 429.48 235.35 
L 429.84 236.25 
L 430.2 236.7 
L 430.92 235.8 
L 431.28 234 
L 432.36 231.3 
L 432.72 230.85 
L 433.08 231.3 
L 433.44 231.3 
L 434.16 232.2 
L 434.52 233.1 
L 435.24 232.2 
L 435.6 232.2 
L 435.96 233.1 
L 436.68 229.5 
L 437.04 229.95 
L 437.76 234 
L 438.12 234.9 
L 438.48 227.7 
L 438.84 223.2 
L 439.2 224.1 
L 439.56 234.9 
L 439.92 239.85 
L 440.28 235.8 
L 440.64 234 
L 441 234.45 
L 441.36 234 
L 441.72 234.45 
L 442.08 234 
L 442.44 233.1 
L 442.8 236.25 
L 443.16 232.2 
L 443.52 225 
L 443.88 225.9 
L 444.24 228.6 
L 444.96 232.2 
L 446.04 234.9 
L 447.12 232.2 
L 447.48 231.75 
L 447.84 232.2 
L 448.2 233.1 
L 448.56 232.65 
L 448.92 233.1 
L 449.28 234 
L 449.64 233.1 
L 450.36 229.5 
L 450.72 229.05 
L 451.08 234.9 
L 451.44 232.2 
L 451.8 231.3 
L 452.16 230.85 
L 452.52 231.3 
L 452.88 232.2 
L 453.24 232.65 
L 453.96 234.45 
L 454.32 234 
L 455.04 235.8 
L 455.76 239.85 
L 457.2 231.3 
L 457.56 230.4 
L 458.28 229.5 
L 458.64 228.6 
L 459.36 227.7 
L 459.72 229.5 
L 460.08 232.2 
L 460.44 234 
L 460.8 233.1 
L 461.16 231.75 
L 461.88 230.85 
L 462.24 231.75 
L 462.6 231.3 
L 462.96 229.5 
L 463.32 229.5 
L 463.68 229.05 
L 464.04 229.95 
L 464.76 227.25 
L 465.12 227.7 
L 465.84 230.4 
L 466.2 225 
L 466.56 222.75 
L 466.92 221.85 
L 467.64 223.65 
L 468 224.1 
L 468.36 223.2 
L 468.72 223.2 
L 469.08 229.05 
L 469.44 225.9 
L 469.8 224.1 
L 471.24 221.4 
L 471.96 212.4 
L 472.32 211.95 
L 473.04 225 
L 473.4 226.35 
L 473.76 219.6 
L 474.12 217.35 
L 475.2 216 
L 475.56 214.65 
L 475.92 214.2 
L 476.28 215.1 
L 476.64 214.65 
L 477.72 209.7 
L 478.08 208.8 
L 478.44 208.35 
L 478.8 207.45 
L 479.16 216 
L 479.52 214.2 
L 480.24 212.4 
L 481.32 206.55 
L 482.04 207.45 
L 482.4 206.1 
L 482.76 201.6 
L 483.12 198.9 
L 483.48 199.8 
L 483.84 203.4 
L 484.2 208.35 
L 484.92 202.5 
L 485.28 202.05 
L 485.64 203.4 
L 486 204.3 
L 486.36 206.55 
L 486.72 205.65 
L 487.08 204.3 
L 487.44 203.85 
L 487.8 204.3 
L 488.52 204.3 
L 488.88 205.2 
L 489.24 207 
L 489.96 211.95 
L 490.32 211.5 
L 491.04 205.2 
L 491.4 204.3 
L 491.76 206.1 
L 492.12 210.6 
L 492.48 213.3 
L 492.84 214.2 
L 493.2 214.65 
L 493.56 215.55 
L 493.92 213.3 
L 494.64 207 
L 495 207 
L 495.36 207.9 
L 495.72 213.3 
L 496.08 210.6 
L 496.8 194.4 
L 497.16 195.3 
L 497.52 197.1 
L 497.88 196.65 
L 498.24 198 
L 498.6 204.3 
L 498.6 207 
L 498.96 216 
L 499.68 222.3 
L 500.4 218.7 
L 500.76 217.8 
L 501.12 221.4 
L 501.48 223.2 
L 502.2 219.6 
L 502.56 219.6 
L 503.28 216 
L 503.64 218.7 
L 504 217.8 
L 504.36 205.2 
L 504.72 204.75 
L 505.08 206.1 
L 505.44 206.55 
L 506.16 217.8 
L 506.52 223.2 
L 506.88 226.8 
L 507.24 234 
L 507.6 230.4 
L 507.96 228.6 
L 508.32 227.7 
L 508.68 227.25 
L 509.04 227.7 
L 509.4 229.05 
L 510.12 230.85 
L 510.48 231.3 
L 510.84 231.3 
L 511.2 231.75 
L 511.92 233.55 
L 512.28 232.2 
L 513 228.6 
L 513.36 230.4 
L 513.72 229.5 
L 514.08 225.9 
L 514.44 220.5 
L 514.8 218.7 
L 515.16 217.8 
L 515.52 216.45 
L 515.88 218.7 
L 516.24 216 
L 516.6 208.8 
L 516.96 203.85 
L 517.32 205.2 
L 517.68 216 
L 518.04 230.4 
L 518.4 235.8 
L 518.76 236.7 
L 519.12 233.1 
L 519.48 231.3 
L 519.84 231.75 
L 520.2 230.85 
L 520.56 231.3 
L 520.92 235.8 
L 521.28 237.6 
L 521.64 236.7 
L 522.72 231.75 
L 523.08 230.4 
L 523.44 230.85 
L 523.8 232.2 
L 524.16 234.9 
L 524.88 236.7 
L 525.24 238.5 
L 525.6 241.2 
L 525.96 242.1 
L 526.32 239.4 
L 526.68 238.05 
L 526.68 238.05 
" clip-path="url(#p14507d3c6c)" style="fill: none; stroke: #ff0000; stroke-width: 1.5; stroke-linecap: square"/>
</g>
<g id="patch_8">
<path d="M 86.7600 245.1600 L 86.7600 187.5600" style="fill: none; stroke: #000000; stroke-width: 0.8; stroke-linejoin: miter; stroke-linecap: square"/>
</g>
<g id="patch_9">
<path d="M 547.5600 245.1600 L 547.5600 187.5600" style="fill: none; stroke: #000000; stroke-width: 0.8; stroke-linejoin: miter; stroke-linecap: square"/>
</g>
<g id="patch_10">
<path d="M 86.7600 245.1600 L 547.5600 245.1600" style="fill: none; stroke: #000000; stroke-width: 0.8; stroke-linejoin: miter; stroke-linecap: square"/>
</g>
<g id="patch_11">
<path d="M 86.7600 187.5600 L 547.5600 187.5600" style="fill: none; stroke: #000000; stroke-width: 0.8; stroke-linejoin: miter; stroke-linecap: square"/>
</g>
</g>
</g>
<defs>
<clipPath id="p2a2abd546a">
<rect x="86.4" y="28.8" width="460.8" height="158.4"/>
</clipPath>
<clipPath id="p14507d3c6c">
<rect x="86.4" y="187.2" width="460.8" height="57.6"/>
</clipPath>
</defs>
</svg>

</body></html>
